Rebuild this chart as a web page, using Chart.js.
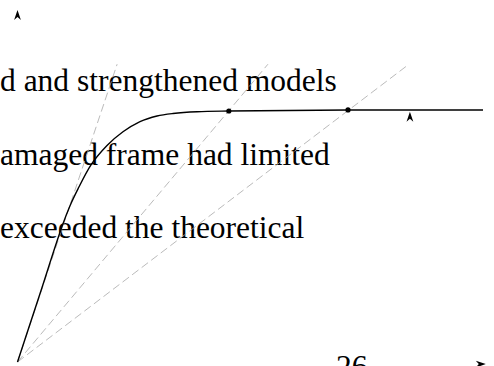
<!DOCTYPE html>
<html>
<head>
<meta charset="utf-8">
<script src="https://cdn.jsdelivr.net/npm/chart.js@4"></script>
<style>
  html, body { margin: 0; padding: 0; background: #fff; overflow: hidden; }
  #wrap { position: relative; width: 494px; height: 366px; overflow: hidden; }
  .txt {
    position: absolute; left: 0; white-space: nowrap;
    font-family: "Liberation Serif", "Times New Roman", serif;
    font-size: 31.5px; line-height: 31.5px; color: #000;
  }
  #plot { position: absolute; left: 0; top: 0; z-index: 2; }
</style>
</head>
<body>
<div id="wrap">
  <div class="txt" id="line0" style="top:64.6px"></div>
  <div class="txt" id="line1" style="top:138.6px"></div>
  <div class="txt" id="line2" style="top:211.6px"></div>
  <div class="txt" id="fignum" style="top:351px; left:336px"></div>
  <canvas id="plot" width="494" height="366"></canvas>
</div>
<script>
// text fragments (cut off at the left edge in the source figure)
const textLines = [
    "d and strengthened models",
    "amaged frame had limited",
    "exceeded the theoretical"
];
const figNumber = "26";

// load-displacement curve
const curveX = [0, 4.83, 9.56, 11.28, 13.0, 15.79, 19.23, 22.66, 26.32, 29.97, 33.40, 38.56, 45.4, 71.0, 100];
const curveY = [0, 19.4, 38.5, 44.4, 49.2, 56.0, 61.5, 65.4, 68.3, 69.9, 70.6, 71.1, 71.3, 71.6, 71.6];

// secant (stiffness) lines from the origin
const secantEndX = [21.4, 53.8, 84.1];
const secantEndY = [84.6, 84.6, 84.6];

// marked points on the curve
const dotX = [45.4, 71.0];
const dotY = [71.3, 71.6];

// arrowheads: [x, y, direction]
const arrowX = [0, 84.3, 100.6];
const arrowY = [100, 71.1, -0.6];
const arrowDir = ["up", "up", "right"];

document.getElementById('line0').textContent = textLines[0];
document.getElementById('line1').textContent = textLines[1];
document.getElementById('line2').textContent = textLines[2];
document.getElementById('fignum').textContent = figNumber;

function to_points(xs, ys){
    let pts = [];
    for(let i=0;i<xs.length;i++){
        pts.push({x: xs[i], y: ys[i]});
    }
    return pts;
}

let datasets = [];
datasets.push({
    data: to_points(curveX, curveY),
    borderColor: '#000',
    borderWidth: 1.4,
    pointRadius: 0,
    cubicInterpolationMode: 'monotone',
    showLine: true,
    clip: false,
    order: 1
});
for(let i=0;i<secantEndX.length;i++){
    datasets.push({
        data: [{x: 0, y: 0}, {x: secantEndX[i], y: secantEndY[i]}],
        borderColor: '#a8a8a8',
        borderWidth: 0.8,
        borderDash: [8, 4],
        pointRadius: 0,
        showLine: true,
        clip: false,
        order: 3
    });
}
datasets.push({
    data: to_points(dotX, dotY),
    backgroundColor: '#000',
    borderColor: '#000',
    pointRadius: 2.6,
    borderWidth: 0,
    showLine: false,
    clip: false,
    order: 0
});

// draws the small stealth arrowheads
const arrowPlugin = {
    id: 'arrows',
    afterDatasetsDraw(chart){
        const ctx = chart.ctx;
        const xs = chart.scales.x;
        const ys = chart.scales.y;
        ctx.save();
        ctx.fillStyle = '#000';
        for(let i=0;i<arrowX.length;i++){
            const px = xs.getPixelForValue(arrowX[i]);
            const py = ys.getPixelForValue(arrowY[i]);
            ctx.save();
            ctx.translate(px, py);
            if(arrowDir[i] == "right"){
                ctx.rotate(Math.PI/2);
            }
            ctx.beginPath();
            ctx.moveTo(0, 0);
            ctx.lineTo(3.4, 10);
            ctx.lineTo(0, 7);
            ctx.lineTo(-3.4, 10);
            ctx.closePath();
            ctx.fill();
            ctx.restore();
        }
        ctx.restore();
    }
};

const chart = new Chart(document.getElementById('plot'), {
    type: 'scatter',
    data: { datasets: datasets },
    options: {
        responsive: false,
        animation: false,
        devicePixelRatio: 1,
        layout: { padding: { left: 17.5, right: 11, top: 10, bottom: 0 } },
        scales: {
            x: { type: 'linear', min: 0, max: 100, display: false },
            y: { type: 'linear', min: 0, max: 100, display: false }
        },
        plugins: {
            legend: { display: false },
            tooltip: { enabled: false }
        }
    },
    plugins: [arrowPlugin]
});
</script>
</body>
</html>
